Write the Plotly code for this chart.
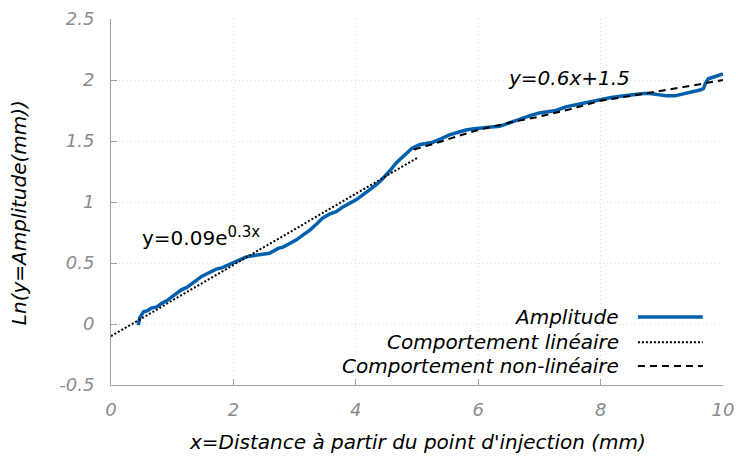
import plotly.graph_objects as go

# Measured log-amplitude along the distance from the injection point
dist_mm = [0.445, 0.47, 0.53, 0.60, 0.66, 0.75, 0.83, 0.91, 0.99, 1.07, 1.15, 1.24, 1.32,
           1.40, 1.48, 1.56, 1.64, 1.72, 1.81, 1.90, 2.0, 2.10, 2.21, 2.32, 2.43, 2.59,
           2.73, 2.81, 2.92, 3.03, 3.14, 3.25, 3.36, 3.46, 3.57, 3.68, 3.79, 3.90, 4.01,
           4.12, 4.23, 4.33, 4.42, 4.50, 4.58, 4.66, 4.74, 4.82, 4.92, 5.04, 5.15, 5.26,
           5.40, 5.53, 5.66, 5.80, 5.93, 6.07, 6.21, 6.35, 6.51, 6.62, 6.73, 6.86, 7.0,
           7.13, 7.27, 7.43, 7.61, 7.75, 7.88, 8.02, 8.15, 8.29, 8.42, 8.56, 8.70, 8.81,
           8.91, 9.0, 9.08, 9.21, 9.31, 9.41, 9.50, 9.57, 9.64, 9.68, 9.71, 9.76, 9.82,
           9.87, 9.94, 10.0]
ln_amp = [-0.01, 0.05, 0.10, 0.11, 0.13, 0.14, 0.17, 0.19, 0.22, 0.25, 0.28, 0.30, 0.33,
          0.36, 0.39, 0.41, 0.43, 0.45, 0.46, 0.48, 0.50, 0.53, 0.55, 0.56, 0.57, 0.58,
          0.62, 0.63, 0.66, 0.69, 0.73, 0.77, 0.82, 0.87, 0.90, 0.92, 0.96, 0.99, 1.02,
          1.06, 1.10, 1.14, 1.18, 1.22, 1.27, 1.32, 1.36, 1.40, 1.44, 1.47, 1.48, 1.49,
          1.52, 1.55, 1.57, 1.59, 1.60, 1.61, 1.615, 1.62, 1.65, 1.67, 1.69, 1.71, 1.73,
          1.74, 1.75, 1.78, 1.80, 1.815, 1.83, 1.845, 1.855, 1.865, 1.875, 1.885, 1.89,
          1.89, 1.88, 1.875, 1.87, 1.87, 1.88, 1.89, 1.90, 1.91, 1.92, 1.93, 1.97, 2.01,
          2.02, 2.03, 2.04, 2.05]

# Linear-regime fit (dotted)
lin_x = [0.0, 5.0]
lin_y = [-0.10, 1.36]

# Non-linear-regime fit (dashed)
nl_x = [4.95, 5.3, 5.6, 6.0, 6.5, 7.0, 7.5, 8.0, 8.5, 9.0, 9.5, 10.0]
nl_y = [1.43, 1.48, 1.53, 1.59, 1.65, 1.70, 1.76, 1.83, 1.87, 1.91, 1.955, 2.0]

x_ticks = [0, 2, 4, 6, 8, 10]
y_ticks = [-0.5, 0, 0.5, 1, 1.5, 2, 2.5]

legend_names = ["Amplitude", "Comportement linéaire", "Comportement non-linéaire"]

FONT = "DejaVu Sans"
BLUE = "#0060ad"
AXIS_GREY = "#a0a0a0"
TICK_GREY = "#8c8c8c"
GRID_GREY = "#dcdcdc"

fig = go.Figure()
fig.add_trace(go.Scatter(x=dist_mm, y=ln_amp, mode="lines", name=legend_names[0],
                         line=dict(color=BLUE, width=3.5)))
fig.add_trace(go.Scatter(x=lin_x, y=lin_y, mode="lines", name=legend_names[1],
                         line=dict(color="black", width=2, dash="2px,2px")))
fig.add_trace(go.Scatter(x=nl_x, y=nl_y, mode="lines", name=legend_names[2],
                         line=dict(color="black", width=2, dash="7px,5px")))

axis_common = dict(
    showline=True, linecolor=AXIS_GREY, linewidth=1, mirror=False,
    ticks="inside", ticklen=6, tickcolor=AXIS_GREY, tickwidth=1,
    showgrid=True, gridcolor=GRID_GREY, gridwidth=1, griddash="1px,3px",
    zeroline=False, automargin=False,
    tickfont=dict(family=FONT, size=18, color=TICK_GREY, style="italic"),
)

fig.update_xaxes(range=[0, 10], tickvals=x_ticks, ticktext=[str(v) for v in x_ticks],
                 ticklabelstandoff=8, **axis_common)
fig.update_yaxes(range=[-0.5, 2.5], tickvals=y_ticks,
                 ticktext=["-0.5", "0", "0.5", "1", "1.5", "2", "2.5"],
                 ticklabelstandoff=12, **axis_common)

annotations = [
    dict(text="x=Distance à partir du point d'injection (mm)", xref="paper", yref="paper",
         x=0.5, y=-0.155, xanchor="center", yanchor="middle", showarrow=False,
         font=dict(family=FONT, size=20, color="black", style="italic")),
    dict(text="Ln(y=Amplitude(mm))", xref="paper", yref="paper",
         x=-0.150, y=0.47, xanchor="center", yanchor="middle", textangle=-90,
         showarrow=False, font=dict(family=FONT, size=20, color="black", style="italic")),
    dict(text="y=0.09e<sup><span style='font-size:15px'>0.3x</span></sup>",
         xref="x", yref="y", x=0.48, y=0.72,
         xanchor="left", yanchor="middle", showarrow=False,
         font=dict(family=FONT, size=20, color="black")),
    dict(text="y=0.6x+1.5", xref="x", yref="y", x=6.46, y=2.02,
         xanchor="left", yanchor="middle", showarrow=False,
         font=dict(family=FONT, size=20, color="black", style="italic")),
]

# Legend drawn with the label on the left and the line sample on the right
legend_rows_y = [0.186, 0.117, 0.052]
legend_styles = [dict(color=BLUE, width=3.5), dict(color="black", width=2, dash="2px,2px"),
                 dict(color="black", width=2, dash="7px,5px")]
shapes = []
for name, ry, style in zip(legend_names, legend_rows_y, legend_styles):
    annotations.append(dict(text=name, xref="paper", yref="paper", x=0.834, y=ry,
                            xanchor="right", yanchor="middle", showarrow=False,
                            font=dict(family=FONT, size=20, color="black", style="italic")))
    shapes.append(dict(type="line", xref="paper", yref="paper", x0=0.861, x1=0.967,
                       y0=ry, y1=ry, line=style))

fig.update_layout(
    width=739, height=459,
    margin=dict(l=111, r=16, t=19, b=74),
    paper_bgcolor="white", plot_bgcolor="white",
    showlegend=False,
    annotations=annotations,
    shapes=shapes,
    font=dict(family=FONT),
)

fig.write_html("out.html")
